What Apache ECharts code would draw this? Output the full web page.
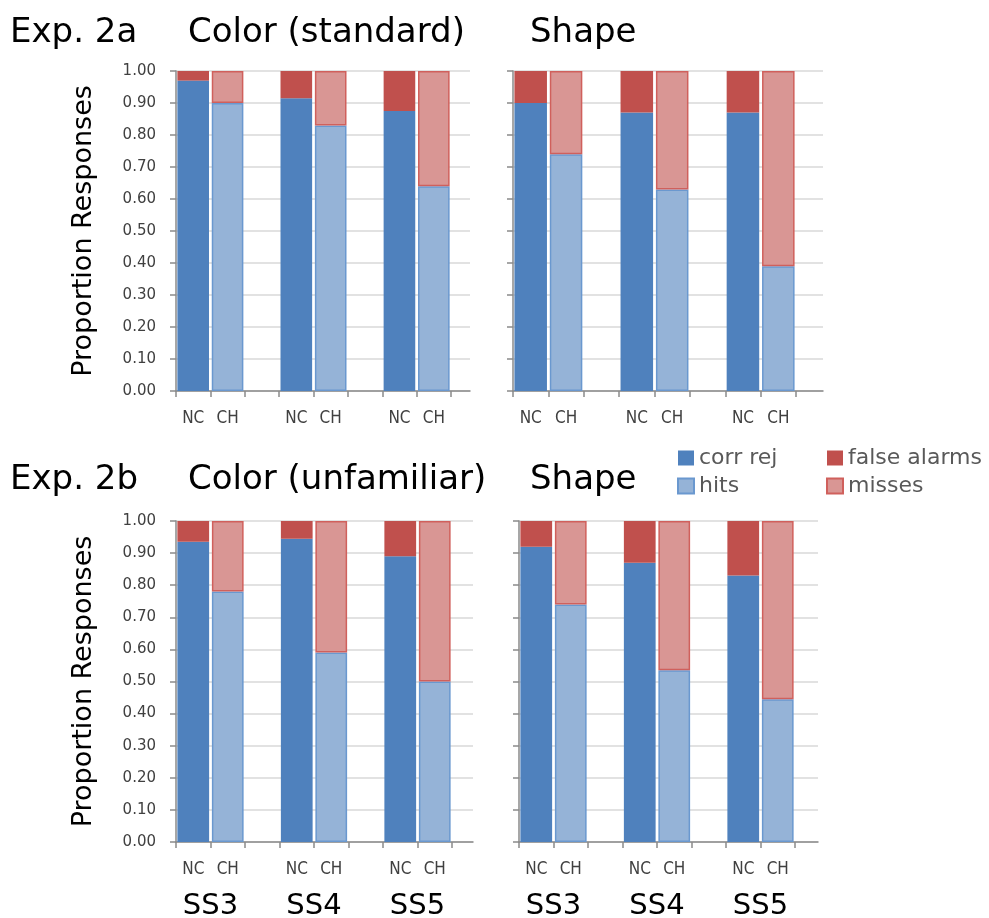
<!DOCTYPE html>
<html>
<head>
<meta charset="utf-8">
<title>Exp. 2 proportion responses</title>
<script src="https://cdn.jsdelivr.net/npm/echarts@6/dist/echarts.min.js"></script>
<style>
  html, body { margin: 0; padding: 0; background: #fff; }
  #chart { width: 989px; height: 918px; }
</style>
</head>
<body>
<div id="chart"></div>
<script>
// categories along each x axis (blank slot = gap between set sizes)
var categories = ['NC', 'CH', '', 'NC', 'CH', '', 'NC', 'CH'];
// set size labels, placed on category boundaries
var setSizeLabels = ['', 'SS3', '', '', 'SS4', '', '', 'SS5', ''];

// Exp. 2a - Color (standard), SS3 / SS4 / SS5
var stdColorCorrRej = [0.97, 0.915, 0.875];
var stdColorFalseAlarms = [0.03, 0.085, 0.125];
var stdColorHits = [0.90, 0.83, 0.64];
var stdColorMisses = [0.10, 0.17, 0.36];

// Exp. 2a - Shape
var stdShapeCorrRej = [0.90, 0.87, 0.87];
var stdShapeFalseAlarms = [0.10, 0.13, 0.13];
var stdShapeHits = [0.74, 0.63, 0.39];
var stdShapeMisses = [0.26, 0.37, 0.61];

// Exp. 2b - Color (unfamiliar)
var unfColorCorrRej = [0.935, 0.945, 0.89];
var unfColorFalseAlarms = [0.065, 0.055, 0.11];
var unfColorHits = [0.78, 0.59, 0.50];
var unfColorMisses = [0.22, 0.41, 0.50];

// Exp. 2b - Shape
var unfShapeCorrRej = [0.92, 0.87, 0.83];
var unfShapeFalseAlarms = [0.08, 0.13, 0.17];
var unfShapeHits = [0.74, 0.535, 0.445];
var unfShapeMisses = [0.26, 0.465, 0.555];

var FONT = "'DejaVu Sans', 'Noto Sans', sans-serif";
var NARROW = "'Liberation Sans Narrow', 'DejaVu Sans Condensed', sans-serif";
var AXIS_GRAY = '#8a8a8a';

var panels = [
    { left: 176, top: 71, width: 275, height: 320, bgWidth: 294, yLabels: true, ssLabels: false,
      corrRej: stdColorCorrRej, falseAlarms: stdColorFalseAlarms, hits: stdColorHits, misses: stdColorMisses },
    { left: 513, top: 71, width: 283, height: 320, bgWidth: 310, yLabels: false, ssLabels: false,
      corrRej: stdShapeCorrRej, falseAlarms: stdShapeFalseAlarms, hits: stdShapeHits, misses: stdShapeMisses },
    { left: 176, top: 521, width: 276, height: 321, bgWidth: 297, yLabels: true, ssLabels: true,
      corrRej: unfColorCorrRej, falseAlarms: unfColorFalseAlarms, hits: unfColorHits, misses: unfColorMisses },
    { left: 519, top: 521, width: 276, height: 321, bgWidth: 299, yLabels: false, ssLabels: true,
      corrRej: unfShapeCorrRej, falseAlarms: unfShapeFalseAlarms, hits: unfShapeHits, misses: unfShapeMisses }
];

// put the 3 set-size values into the NC (offset 0) or CH (offset 1) slots
function toSlots(values, offset) {
    var out = categories.map(function () { return null; });
    values.forEach(function (v, i) { out[offset + i * 3] = v; });
    return out;
}

var grid = [], xAxis = [], yAxis = [], series = [];

panels.forEach(function (p, i) {
    // background grid: only the gridlines and the long x axis line
    var bg = grid.length;
    grid.push({ left: p.left, top: p.top, width: p.bgWidth, height: p.height, outerBoundsMode: 'none' });
    xAxis.push({
        type: 'category', gridIndex: bg, data: [''],
        axisLine: { lineStyle: { color: AXIS_GRAY, width: 1.5 } },
        axisTick: { show: false }, axisLabel: { show: false }
    });
    yAxis.push({
        type: 'value', gridIndex: bg, min: 0, max: 1, interval: 0.1,
        axisLine: { show: false }, axisTick: { show: false }, axisLabel: { show: false },
        splitLine: { lineStyle: { color: '#d9d9d9', width: 1.5 } }
    });

    // main grid with the bars
    var g = grid.length;
    grid.push({ left: p.left, top: p.top, width: p.width, height: p.height, outerBoundsMode: 'none' });
    var xi = xAxis.length;
    xAxis.push({
        type: 'category', gridIndex: g, data: categories,
        axisLine: { show: false },
        axisTick: { show: true, length: 6, lineStyle: { color: AXIS_GRAY, width: 1.5 } },
        axisLabel: { interval: 0, margin: 19, fontSize: 17, fontFamily: NARROW, color: '#404040' }
    });
    if (p.ssLabels) {
        xAxis.push({
            type: 'category', gridIndex: g, position: 'bottom', boundaryGap: false, data: setSizeLabels,
            axisLine: { show: false }, axisTick: { show: false },
            axisLabel: { interval: 0, margin: 50, fontSize: 29, fontFamily: FONT, color: '#000' }
        });
    }
    var yi = yAxis.length;
    yAxis.push({
        type: 'value', gridIndex: g, min: 0, max: 1, interval: 0.1,
        name: p.yLabels ? 'Proportion Responses' : '',
        nameLocation: 'middle', nameGap: 79,
        nameTextStyle: { fontSize: 27, fontFamily: FONT, color: '#000' },
        axisLine: { show: true, lineStyle: { color: AXIS_GRAY, width: 1.5 } },
        axisTick: { show: true, length: 6, lineStyle: { color: AXIS_GRAY, width: 1.5 } },
        axisLabel: {
            show: p.yLabels, margin: 20, fontSize: 15, fontFamily: FONT, color: '#404040',
            formatter: function (v) { return v.toFixed(2); }
        },
        splitLine: { show: false }
    });

    var stack = 'panel' + i;
    var common = { type: 'bar', stack: stack, xAxisIndex: xi, yAxisIndex: yi, barWidth: '92%' };
    series.push(Object.assign({ name: 'corr rej', data: toSlots(p.corrRej, 0),
        itemStyle: { color: '#4f81bd' } }, common));
    series.push(Object.assign({ name: 'false alarms', data: toSlots(p.falseAlarms, 0),
        itemStyle: { color: '#c0504d' } }, common));
    series.push(Object.assign({ name: 'hits', data: toSlots(p.hits, 1),
        itemStyle: { color: '#95b3d7', borderColor: '#6a98cf', borderWidth: 1.5 } }, common));
    series.push(Object.assign({ name: 'misses', data: toSlots(p.misses, 1),
        itemStyle: { color: '#d99694', borderColor: '#d0605c', borderWidth: 1.5 } }, common));
});

function heading(text, left, top) {
    return { text: text, left: left, top: top, padding: 0,
        textStyle: { fontSize: 34, fontWeight: 'normal', fontFamily: FONT, color: '#000' } };
}

var legendCommon = {
    orient: 'vertical', icon: 'rect', itemWidth: 16, itemHeight: 15, itemGap: 2, itemTextGap: 7,
    padding: 0, selectedMode: false,
    textStyle: { fontSize: 22, fontFamily: FONT, color: '#595959', lineHeight: 26 }
};

var chart = echarts.init(document.getElementById('chart'));
chart.setOption({
    backgroundColor: '#fff',
    animation: false,
    title: [
        heading('Exp. 2a', 10, 16),
        heading('Color (standard)', 188, 16),
        heading('Shape', 530, 16),
        heading('Exp. 2b', 10, 463),
        heading('Color (unfamiliar)', 188, 463),
        heading('Shape', 530, 463)
    ],
    legend: [
        Object.assign({ left: 677, top: 445, data: ['corr rej', 'hits'] }, legendCommon),
        Object.assign({ left: 826, top: 445, data: ['false alarms', 'misses'] }, legendCommon)
    ],
    grid: grid,
    xAxis: xAxis,
    yAxis: yAxis,
    series: series
});
</script>
</body>
</html>
